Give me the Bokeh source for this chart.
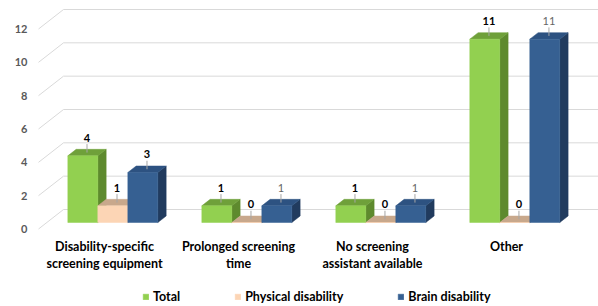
from bokeh.plotting import figure
from bokeh.models import Range1d, FixedTicker, Legend, LegendItem, ColumnDataSource
from bokeh.core.properties import value
from bokeh.embed import file_html
from bokeh.resources import INLINE

# ---------------- data ----------------
categories = ["Disability-specific\nscreening equipment",
              "Prolonged screening\ntime",
              "No screening\nassistant available",
              "Other"]
series_names = ["Total", "Physical disability", "Brain disability"]
total = [4, 1, 1, 11]
physical = [1, 0, 0, 0]
brain = [3, 1, 1, 11]
y_ticks = [0, 2, 4, 6, 8, 10, 12]

# ---------------- styles ----------------
front_colors = ["#92D050", "#FCD5B5", "#366092"]
top_colors = ["#6FA03A", "#C8A88C", "#2D5281"]
side_colors = ["#5E8A2E", "#B8977B", "#213B5E"]
label_colors = [["#000000"] * 4, ["#000000"] * 4,
                ["#000000", "#666666", "#666666", "#666666"]]
label_styles = [["bold"] * 4, ["bold"] * 4,
                ["bold", "normal", "normal", "normal"]]

PX_X = 134.0      # pixels per category unit
PX_Y = 16.667     # pixels per value unit
DX = 25.0 / PX_X  # full depth of the 3D box, in data units
DY = 19.5 / PX_Y
BAR_W = 30.0 / PX_X
WALL_LEFT = -66.0 / PX_X
LABEL_OFF = 15.0 / PX_Y

p = figure(width=598, height=306,
           x_range=Range1d(-0.515, 3.687), y_range=Range1d(-4.65, 13.71),
           output_backend="svg", toolbar_location=None,
           x_axis_location=None, y_axis_location="left",
           min_border_left=35, min_border_right=0,
           min_border_top=0, min_border_bottom=0)
p.outline_line_color = None
p.xgrid.visible = False
p.ygrid.visible = False
p.background_fill_color = "white"
p.border_fill_color = "white"

ax = p.yaxis[0]
ax.ticker = FixedTicker(ticks=y_ticks)
ax.axis_line_color = None
ax.major_tick_line_color = None
ax.minor_tick_line_color = None
ax.major_tick_out = 0
ax.major_tick_in = 0
ax.minor_tick_out = 0
ax.minor_tick_in = 0
ax.major_label_standoff = 8
ax.major_label_text_font = "Lato"
ax.major_label_text_font_style = "bold"
ax.major_label_text_font_size = "11px"
ax.major_label_text_color = "#595959"

# gridlines: side wall diagonal + back wall horizontal
x_end = p.x_range.end
gx = [[WALL_LEFT, WALL_LEFT + DX, x_end] for v in y_ticks]
gy = [[v, v + DY, v + DY] for v in y_ticks]
p.multi_line(gx, gy, line_color="#D9D9D9", line_width=1)

# bars
all_values = [total, physical, brain]
front_renderers = []
lab_x, lab_y, lab_t, lab_c, lab_s = [], [], [], [], []
lead_x, lead_y = [], []
for s, vals in enumerate(all_values):
    fl, fr, fb, ft = [], [], [], []
    side_xs, side_ys, top_xs, top_ys = [], [], [], []
    for i, v in enumerate(vals):
        xc = i + (s - 1) * BAR_W
        x0 = xc - BAR_W / 2 + DX / 3
        x1 = x0 + BAR_W
        y0 = DY / 3
        y1 = v + DY / 3
        fl.append(x0); fr.append(x1); fb.append(y0); ft.append(y1)
        side_xs.append([x1, x1 + DX / 3, x1 + DX / 3, x1])
        side_ys.append([y0, y0 + DY / 3, y1 + DY / 3, y1])
        top_xs.append([x0, x1, x1 + DX / 3, x0 + DX / 3])
        top_ys.append([y1, y1, y1 + DY / 3, y1 + DY / 3])
        xt = (x0 + x1) / 2 + DX / 6
        yt = v + DY / 2
        lab_x.append(xt); lab_y.append(yt + LABEL_OFF)
        lab_t.append(str(v)); lab_c.append(label_colors[s][i]); lab_s.append(label_styles[s][i])
        lead_x.append([xt, xt]); lead_y.append([yt, yt + LABEL_OFF - 6.5 / PX_Y])
    p.patches(side_xs, side_ys, fill_color=side_colors[s], line_color=side_colors[s], line_width=0.5)
    p.patches(top_xs, top_ys, fill_color=top_colors[s], line_color=top_colors[s], line_width=0.5)
    r = p.quad(left=fl, right=fr, bottom=fb, top=ft,
               fill_color=front_colors[s], line_color=front_colors[s], line_width=0.5)
    front_renderers.append(r)

# leader lines and value labels
p.multi_line(lead_x, lead_y, line_color="#A6A6A6", line_width=1)
src = ColumnDataSource(dict(x=lab_x, y=lab_y, t=lab_t, c=lab_c, s=lab_s))
p.text(x="x", y="y", text="t", source=src, text_color="c", text_font_style="s",
       text_font=value("Lato"), text_font_size="11px",
       text_align="center", text_baseline="middle")

# category labels
cat_y = -10.5 / PX_Y
p.text(x=list(range(len(categories))), y=[cat_y] * len(categories), text=categories,
       text_font=value("Lato"), text_font_style="bold", text_font_size="12.5px",
       text_color="#000000", text_align="center", text_baseline="top",
       text_line_height=1.1)

# legend
legend = Legend(items=[LegendItem(label=series_names[s], renderers=[front_renderers[s]])
                       for s in range(3)],
                orientation="horizontal", location=(107, 2),
                spacing=54, glyph_width=7, glyph_height=7, label_standoff=4,
                label_height=14, padding=0, margin=0,
                border_line_color=None, background_fill_alpha=0,
                label_text_font="Lato", label_text_font_style="bold",
                label_text_font_size="12.5px", label_text_color="#000000")
p.add_layout(legend)

open("out.html", "w").write(file_html(p, INLINE))
